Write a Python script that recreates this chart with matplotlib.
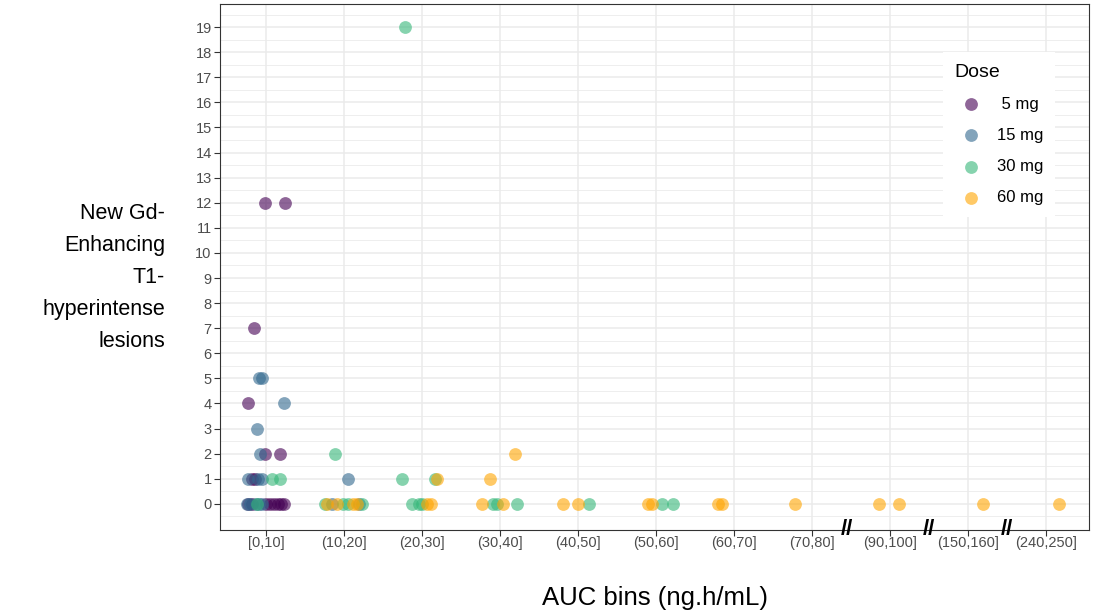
import numpy as np
import matplotlib
matplotlib.use("Agg")
import matplotlib.pyplot as plt
import matplotlib.transforms as mtransforms

plt.rcParams['font.family'] = ['Liberation Sans', 'DejaVu Sans']

# AUC bins shown on the (broken) x axis
bin_labels = ["[0,10]", "(10,20]", "(20,30]", "(30,40]", "(40,50]", "(50,60]",
              "(60,70]", "(70,80]", "(90,100]", "(150,160]", "(240,250]"]
bin_lo = [0, 10, 20, 30, 40, 50, 60, 70, 90, 150, 240]

doses = [" 5 mg", "15 mg", "30 mg", "60 mg"]
colors = ["#440154", "#31688E", "#35B779", "#FFA500"]

# AUC (ng.h/mL) and number of new lesions per subject, by dose
auc_5 = [2.7, 3.2, 5.0, 5.5, 6.0, 6.5, 6.9, 7.3,
         3.2, 3.6, 4.9, 6.8, 2.7, 3.5, 4.9, 7.4]
les_5 = [0, 0, 0, 0, 0, 0, 0, 0,
         1, 1, 2, 2, 4, 7, 12, 12]

auc_15 = [2.6, 2.9, 3.7, 4.1, 4.5,
          2.7, 4.0, 4.5, 15.5, 4.2, 3.8, 7.3, 4.1, 4.5,
          13.5, 16.9]
les_15 = [0, 0, 0, 0, 0,
          1, 1, 1, 1, 2, 3, 4, 5, 5,
          0, 0]

auc_30 = [3.8, 5.8, 6.8, 13.8, 22.8,
          12.6, 14.9, 15.5, 17.3, 22.4, 26.7,
          23.7, 24.6, 25.0, 34.1, 34.6, 37.2, 46.4, 55.8, 57.2]
les_30 = [0, 1, 1, 2, 19,
          0, 0, 0, 0, 1, 1,
          0, 0, 0, 0, 0, 0, 0, 0, 0]

auc_60 = [12.8, 14.1, 16.2, 16.7, 25.6, 26.2, 26.9, 32.7, 33.7, 35.4, 36.9,
          43.1, 45.0, 54.0, 54.5, 62.9, 63.5, 72.8, 93.6, 96.2, 156.9, 246.7]
les_60 = [0, 0, 0, 0, 0, 0, 1, 0, 1, 0, 2,
          0, 0, 0, 0, 0, 0, 0, 0, 0, 0, 0]

auc_all = [auc_5, auc_15, auc_30, auc_60]
les_all = [les_5, les_15, les_30, les_60]


def auc_to_pos(a):
    # each bin gets one unit; bins outside the list are cut out of the axis
    a = np.asarray(a, dtype=float)
    pos = np.empty_like(a)
    for k, v in enumerate(a):
        i = max(j for j, lo in enumerate(bin_lo) if v > lo or j == 0)
        pos[k] = i + (v - (bin_lo[i] + 5)) / 10
    return pos


fig = plt.figure(figsize=(10.94, 6.11), dpi=100)
ax = fig.add_axes([0.2011, 0.1326, 0.7943, 0.8609])

for lab, col, a, l in zip(doses, colors, auc_all, les_all):
    ax.scatter(auc_to_pos(a), l, s=85, color=col, alpha=0.6,
               linewidths=0, label=lab, zorder=3)

ax.set_xlim(-0.59, 10.55)
ax.set_ylim(-1.04, 19.92)
ax.set_xticks(range(len(bin_labels)))
ax.set_xticklabels(bin_labels)
ax.set_yticks(range(0, 20))
ax.set_yticks(np.arange(-0.5, 20, 1), minor=True)

ax.set_axisbelow(True)
ax.grid(True, which='major', color='#EBEBEB', lw=1.1)
ax.grid(True, which='minor', axis='y', color='#EBEBEB', lw=0.6)
ax.tick_params(which='minor', length=0)
ax.tick_params(which='major', length=4, width=0.8, color='#333333',
               labelsize=10.5, labelcolor='#4D4D4D', pad=2)
ax.tick_params(axis='x', pad=0.5)
for sp in ax.spines.values():
    sp.set_color('#333333')
    sp.set_linewidth(0.8)

# axis break marks
trans = mtransforms.blended_transform_factory(ax.transData, ax.transAxes)
for xb in [7.45, 8.5, 9.5]:
    ax.text(xb, 0, "//", transform=trans, ha='center', va='center',
            fontsize=16, fontweight='bold', color='black', clip_on=False)

fig.text(0.151, 0.546, "New Gd-\nEnhancing\nT1-\nhyperintense\nlesions",
         ha='right', va='center', fontsize=15.5, linespacing=1.68)
fig.text(0.599, 0.021, "AUC bins (ng.h/mL)", ha='center', va='center',
         fontsize=18.5)

leg = ax.legend(title="Dose", loc='upper right', bbox_to_anchor=(0.961, 0.909),
                borderaxespad=0, frameon=True, facecolor='white',
                edgecolor='none', framealpha=1, fancybox=False,
                fontsize=12, title_fontsize=14, labelspacing=0.97,
                handletextpad=0.55, alignment='left', borderpad=0.7)

fig.savefig("out.png", dpi=100)
